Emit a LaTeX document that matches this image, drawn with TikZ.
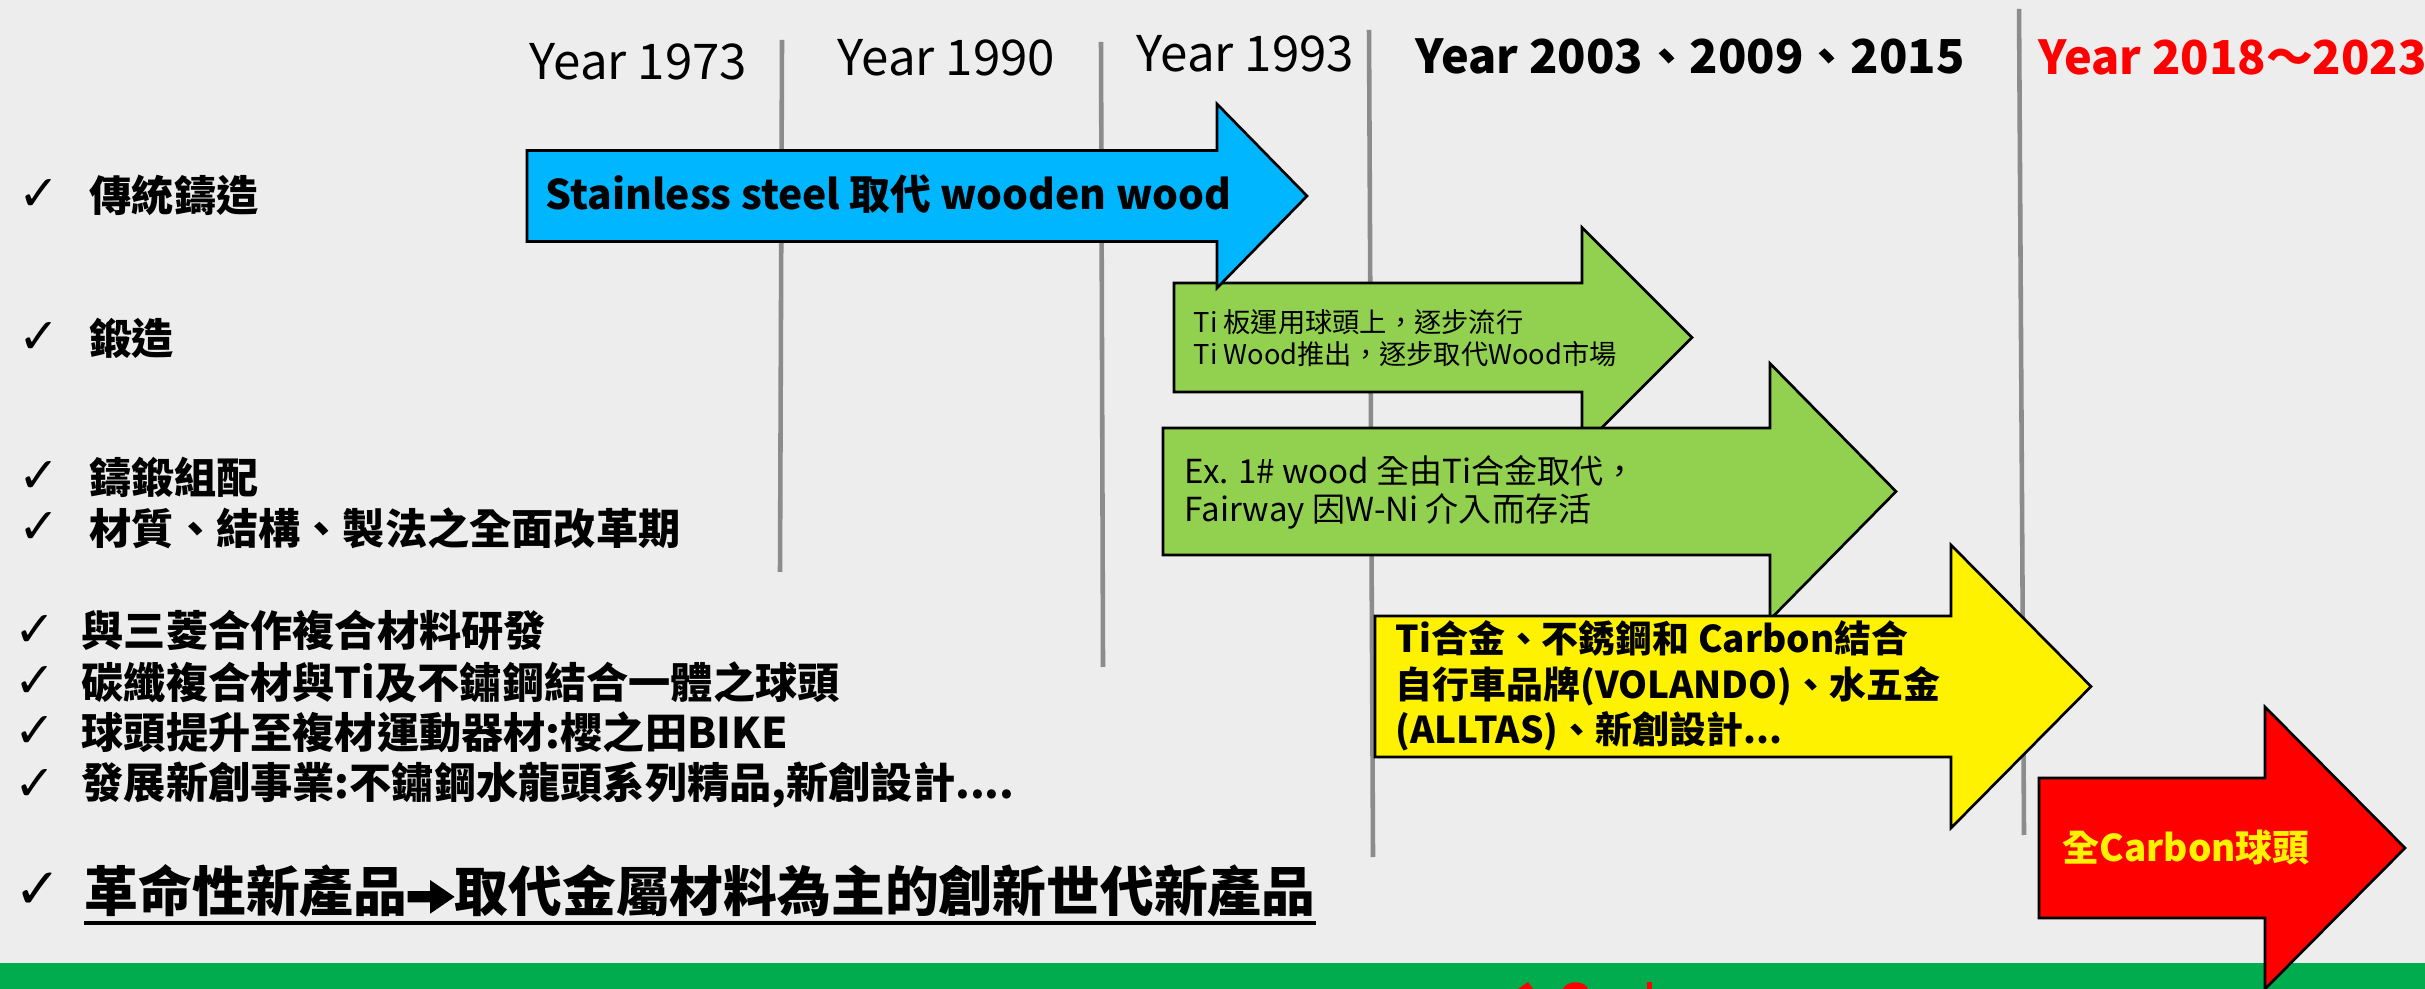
\documentclass[tikz,border=0pt]{standalone}
\usepackage{fontspec}
\setmainfont{Noto Sans CJK TC}
\newfontfamily\symf{DejaVu Sans}
\definecolor{bg}{HTML}{EDEDED}
\definecolor{vline}{HTML}{8C8C8C}
\definecolor{blueA}{HTML}{00B6FF}
\definecolor{greenA}{HTML}{92D050}
\definecolor{band}{HTML}{00AC4E}
\newcommand\blkarrow[7]{\path[blk,fill=#1] (#2,{#5-#6}) -- (#3,{#5-#6}) -- (#3,{#5-#7}) -- (#4,#5) -- (#3,{#5+#7}) -- (#3,{#5+#6}) -- (#2,{#5+#6}) -- cycle;}
\newcommand\heavyarrow{\tikz[x=1pt,y=1pt,baseline=0pt]\fill (0.6,2.6)--(7,2.6)--(7,-0.6)--(14,4.2)--(7,9)--(7,5.8)--(0.6,5.8)--cycle;}
\tikzset{
  vl/.style={draw=vline, line width=1.3pt},
  blk/.style={draw=black, line width=0.75pt, line join=miter},
  lbl/.style={inner sep=0pt, anchor=west},
  chk/.style={inner sep=0pt, anchor=west, font=\symf\fontsize{14}{16}\selectfont},
  item/.style={inner sep=0pt, anchor=west, font=\bfseries\fontsize{12}{14}\selectfont},
  yr/.style={inner sep=0pt, anchor=west, font=\fontsize{14}{17}\selectfont},
  yrb/.style={inner sep=0pt, anchor=west, font=\bfseries\fontsize{13.3}{16}\selectfont},
}
\begin{document}
\begin{tikzpicture}[x=0.01cm, y=-0.01cm]
\useasboundingbox (0,0) rectangle (2425,989);
\fill[bg] (0,0) rectangle (2425,989);
% vertical year separators
\coordinate (l1a) at (782,40);   \coordinate (l1b) at (780,572);
\coordinate (l2a) at (1101,42);  \coordinate (l2b) at (1103,667);
\coordinate (l3a) at (1369,30);  \coordinate (l3b) at (1373,857);
\coordinate (l4a) at (2019,9);   \coordinate (l4b) at (2024,835);
\draw[vl] (l1a) -- (l1b);
\draw[vl] (l2a) -- (l2b);
\draw[vl] (l3a) -- (l3b);
\draw[vl] (l4a) -- (l4b);
% bottom band
\fill[band] (0,963) rectangle (2425,989);
\fill[red] (1518,989) -- (1528,982) -- (1533,989) -- cycle;
\fill[red] (1563,989) .. controls (1566,980) and (1585,980) .. (1588,989) -- cycle;
\fill[red] (1647,982) rectangle (1652,989);
% year labels
\node[yr] (y1973) at (529,61.5) {Year 1973};
\node[yr] (y1990) at (837,57.5) {Year 1990};
\node[yr] (y1993) at (1136,53.5) {Year 1993};
\node[yrb] (y2003) at (1415,56.5) {Year 2003、2009、2015};
\node[yrb, text=red] (y2018) at (2038,57) {Year 2018～2023};
% block arrows
\blkarrow{greenA}{1174}{1582}{1692}{337.5}{54.5}{110}
\blkarrow{blueA}{527}{1217}{1307}{196}{45.5}{92}
\blkarrow{greenA}{1163}{1770}{1896}{491.5}{63.5}{128}
\blkarrow{yellow}{1375}{1951}{2091}{686.5}{70.5}{141.5}
\blkarrow{red}{2039}{2265}{2405}{848}{70}{141}
% arrow texts
\node[lbl, font=\bfseries\fontsize{11.6}{14}\selectfont] (tblue) at (545,194) {Stainless steel 取代 wooden wood};
\node[lbl, align=left, font=\fontsize{7.75}{9.1}\selectfont] (tg1) at (1193,338) {Ti 板運用球頭上，逐步流行\\Ti Wood推出，逐步取代Wood市場};
\node[lbl, align=left, font=\fontsize{9.4}{10.8}\selectfont] (tg2) at (1184,492) {Ex. 1\# wood 全由Ti合金取代，\\Fairway 因W-Ni 介入而存活};
\node[lbl, align=left, font=\bfseries\fontsize{10.5}{13}\selectfont] (ty) at (1395,686) {Ti合金、不銹鋼和 Carbon結合\\自行車品牌(VOLANDO)、水五金\\(ALLTAS)、新創設計...};
\node[lbl, text=yellow, font=\bfseries\fontsize{10.5}{13}\selectfont] (tr) at (2062,848) {全Carbon球頭};
% left checklist
\node[chk] (c1) at (18,195) {✓};
\node[item] (i1) at (89,195) {傳統鑄造};
\node[chk] (c2) at (18,338) {✓};
\node[item] (i2) at (89,338) {鍛造};
\node[chk] (c3) at (18,477) {✓};
\node[item] (i3) at (89,477) {鑄鍛組配};
\node[chk] (c4) at (18,528) {✓};
\node[item] (i4) at (89,528) {材質、結構、製法之全面改革期};
\node[chk] (c5) at (14,631) {✓};
\node[item] (i5) at (81,631) {與三菱合作複合材料研發};
\node[chk] (c6) at (14,682) {✓};
\node[item] (i6) at (81,682) {碳纖複合材與Ti及不鏽鋼結合一體之球頭};
\node[chk] (c7) at (14,732) {✓};
\node[item] (i7) at (81,732) {球頭提升至複材運動器材:櫻之田BIKE};
\node[chk] (c8) at (14,785) {✓};
\node[item] (i8) at (81,785) {發展新創事業:不鏽鋼水龍頭系列精品,新創設計....};
\node[chk, font=\symf\fontsize{16}{18}\selectfont] (c9) at (14,891) {✓};
\node[lbl, font=\bfseries\fontsize{15.3}{18}\selectfont] (rev) at (84,891) {革命性新產品\heavyarrow 取代金屬材料為主的創新世代新產品};
\draw[line width=1.1pt] (rev.west |- 0,923) -- (rev.east |- 0,923);
\end{tikzpicture}
\end{document}
